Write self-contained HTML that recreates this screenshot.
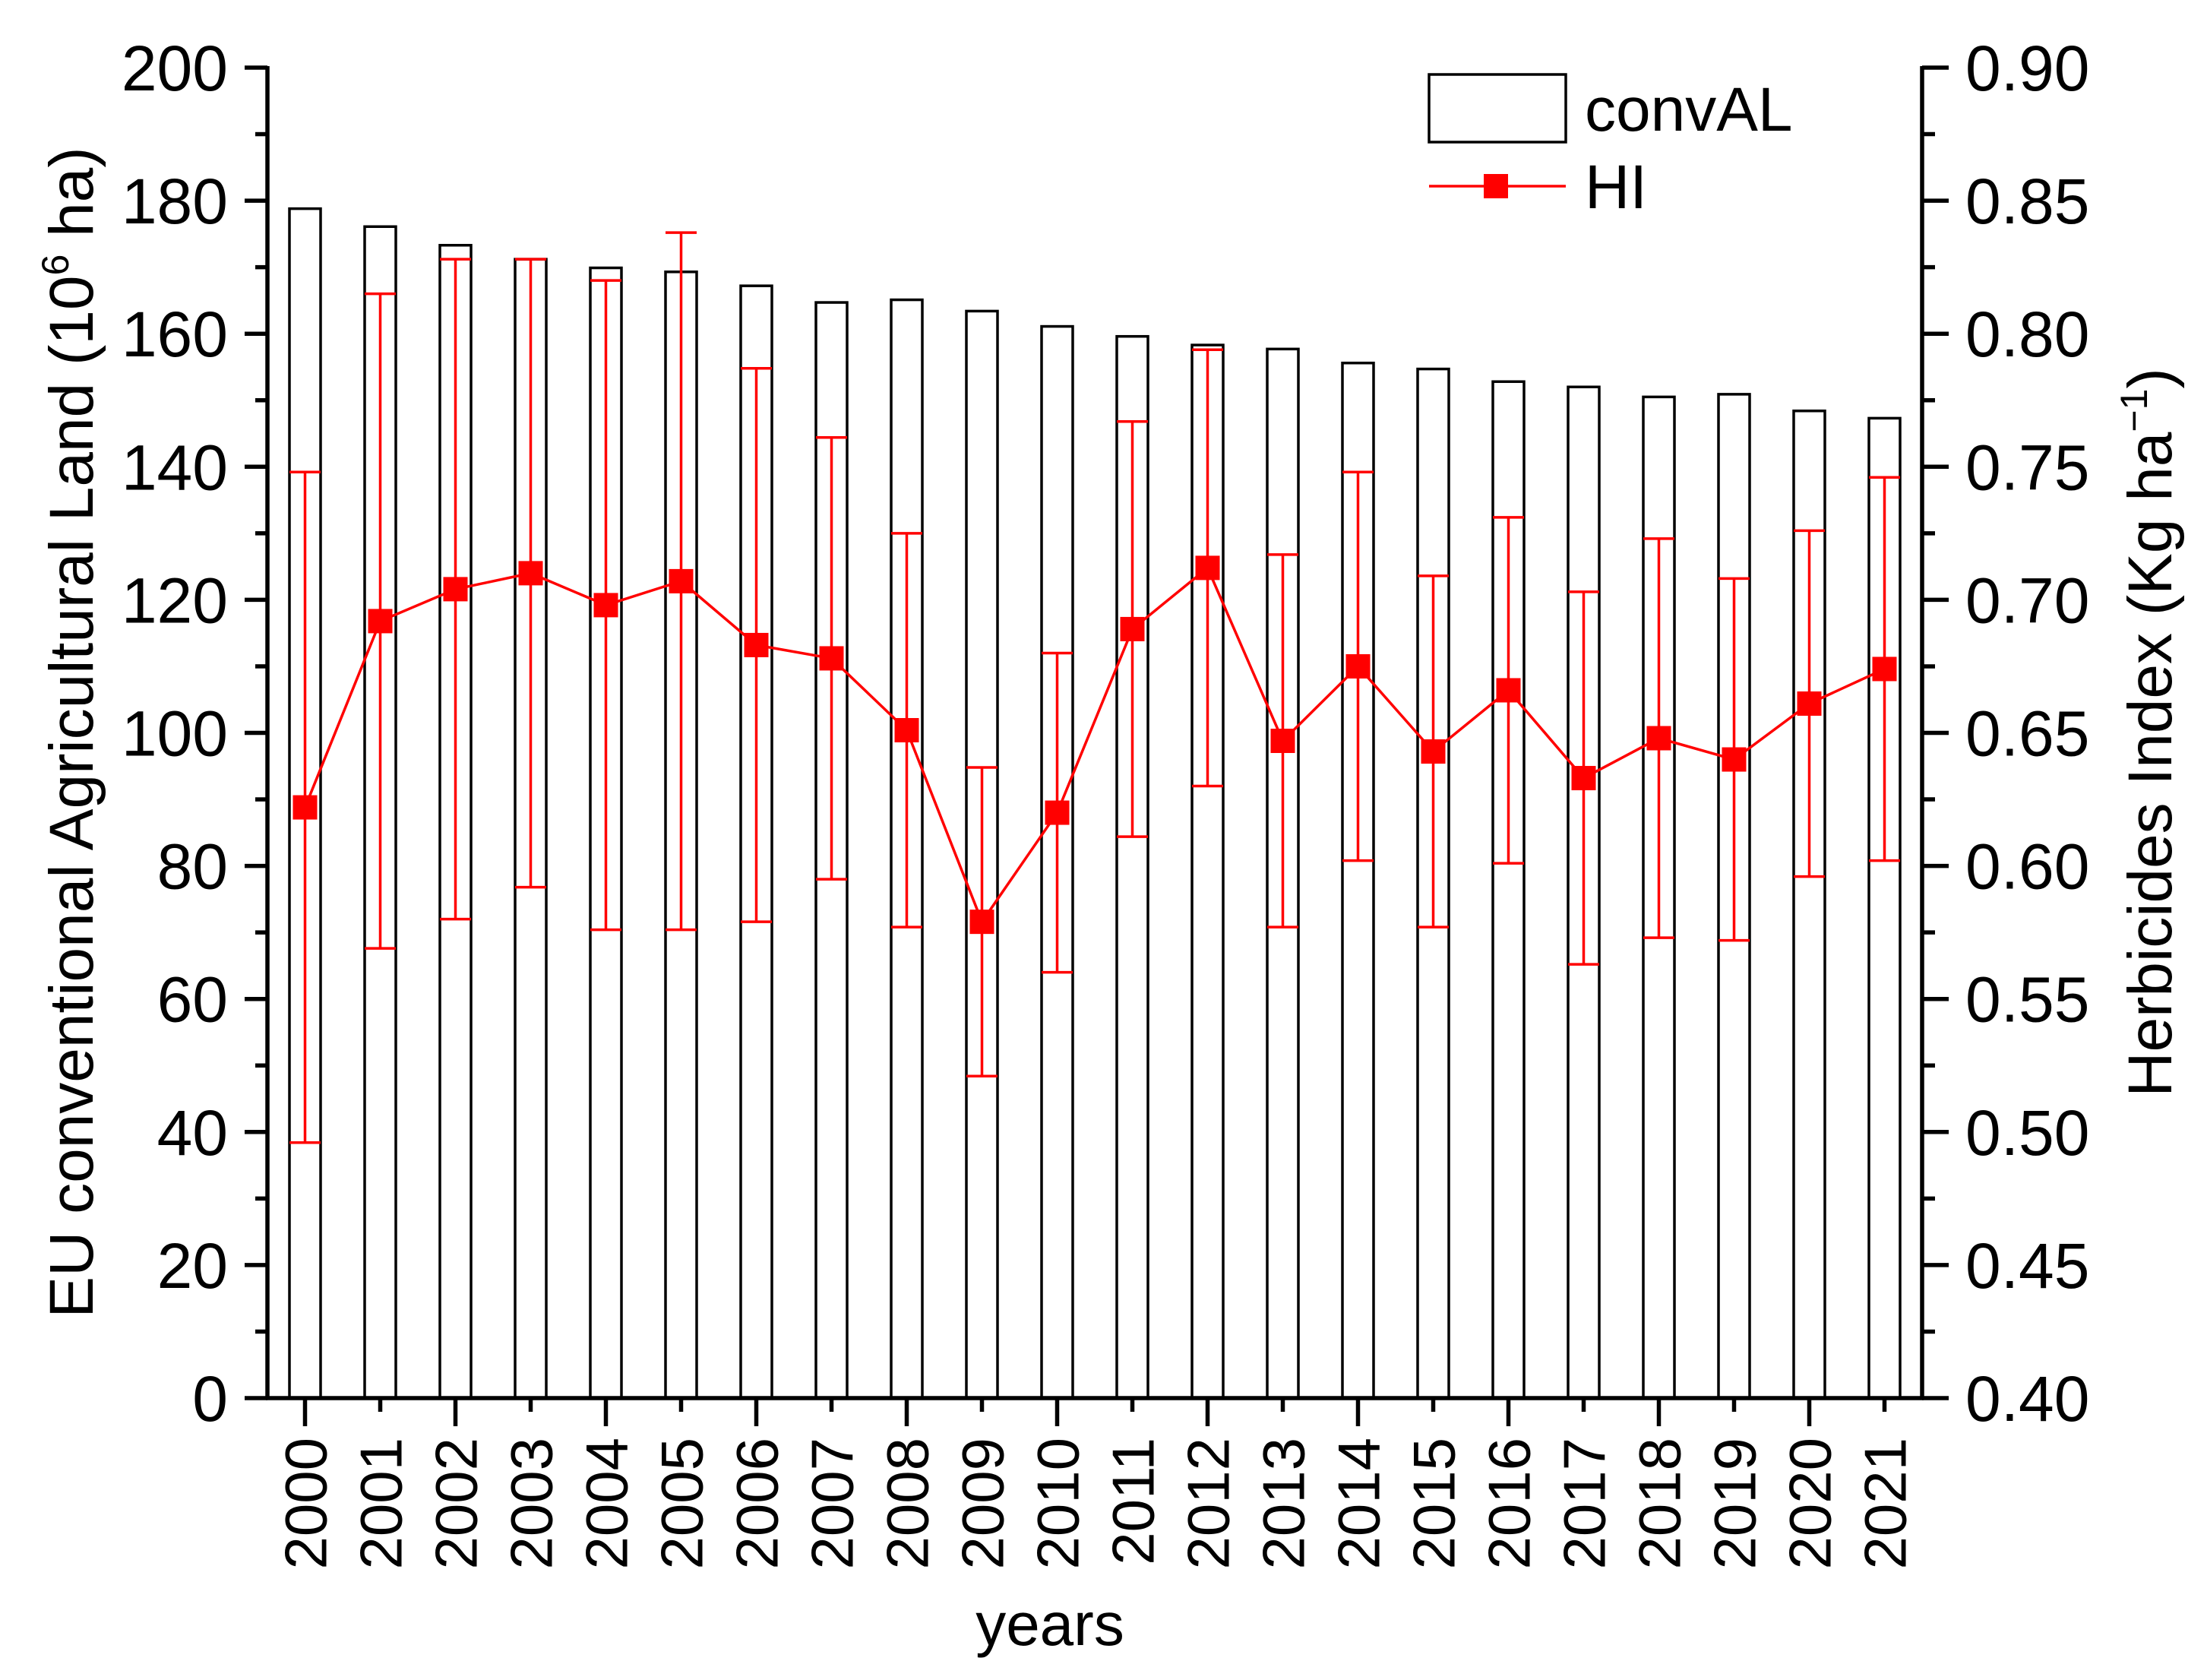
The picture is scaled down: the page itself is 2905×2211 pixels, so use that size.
<!DOCTYPE html>
<html><head><meta charset="utf-8"><style>
html,body{margin:0;padding:0;background:#fff}
svg{display:block;font-family:"Liberation Sans",Arial,sans-serif}
</style></head><body>
<svg id="chart" width="2905" height="2211" viewBox="0 0 2905 2211" xmlns="http://www.w3.org/2000/svg">
<g id="bars"></g>
<g id="errs"></g>
<g id="hiline"></g>
<g id="axes"></g>
<text transform="translate(122,964) rotate(-90)" text-anchor="middle" font-size="82">EU conventional Agricultural Land (10<tspan dy="-32" font-size="50">6</tspan><tspan dy="32"> ha)</tspan></text>
<text transform="translate(2858,964) rotate(-90)" text-anchor="middle" font-size="82">Herbicides Index (Kg ha<tspan dy="-32" font-size="50">−1</tspan><tspan dy="32">)</tspan></text>
<text x="1382" y="2165" text-anchor="middle" font-size="80">years</text>
<g>
<rect x="1881" y="98" width="180" height="89" fill="#fff" stroke="#000" stroke-width="3.5"/>
<text x="2086" y="172" font-size="82">convAL</text>
<line x1="1881" y1="245" x2="2061" y2="245" stroke="#f00" stroke-width="3.5"/>
<rect x="1953" y="229" width="32" height="32" fill="#f00"/>
<text x="2086" y="274" font-size="82">HI</text>
</g>
</svg>
<script>
const years = ["2000","2001","2002","2003","2004","2005","2006","2007","2008","2009","2010","2011","2012","2013","2014","2015","2016","2017","2018","2019","2020","2021"];
const convAL = [178.8,176.1,173.3,171.2,169.9,169.3,167.2,164.7,165.1,163.4,161.1,159.6,158.3,157.7,155.6,154.7,152.8,152.0,150.5,150.9,148.4,147.3];
const hiValues = [0.622,0.692,0.704,0.710,0.698,0.707,0.683,0.678,0.651,0.579,0.620,0.689,0.712,0.647,0.675,0.643,0.666,0.633,0.648,0.640,0.661,0.674];
const hiErrors = [0.126,0.123,0.124,0.118,0.122,0.131,0.104,0.083,0.074,0.058,0.060,0.078,0.082,0.070,0.073,0.066,0.065,0.070,0.075,0.068,0.065,0.072];
const leftTicks = [0,20,40,60,80,100,120,140,160,180,200];
const rightTicks = ["0.40","0.45","0.50","0.55","0.60","0.65","0.70","0.75","0.80","0.85","0.90"];

const NS="http://www.w3.org/2000/svg";
const L=352,R=2530,T=89,B=1840;
const x=i=>L+(i+0.5)*(R-L)/years.length;
const yL=v=>B-(v/200)*(B-T);
const yR=v=>B-((v-0.4)/0.5)*(B-T);
function mk(tag,attrs,parent){const e=document.createElementNS(NS,tag);for(const k in attrs)e.setAttribute(k,attrs[k]);parent.appendChild(e);return e;}
const bars=document.getElementById('bars'),errs=document.getElementById('errs'),hl=document.getElementById('hiline'),ax=document.getElementById('axes');
const bw=41;
years.forEach((yr,i)=>{
  const r=mk('rect',{x:x(i)-bw/2,y:yL(convAL[i]),width:bw,height:B-yL(convAL[i]),fill:'#fff',stroke:'#000','stroke-width':3.5},bars);
  
  
  const hi=yR(hiValues[i]+hiErrors[i]),lo=yR(hiValues[i]-hiErrors[i]);
  const g=mk('g',{stroke:'#f00','stroke-width':3.5},errs);
  
  
  mk('line',{x1:x(i),x2:x(i),y1:hi,y2:lo},g);
  mk('line',{x1:x(i)-bw/2,x2:x(i)+bw/2,y1:hi,y2:hi},g);
  mk('line',{x1:x(i)-bw/2,x2:x(i)+bw/2,y1:lo,y2:lo},g);
});
const pl=mk('polyline',{points:hiValues.map((v,i)=>x(i)+','+yR(v)).join(' '),fill:'none',stroke:'#f00','stroke-width':3.5},hl);


hiValues.forEach((v,i)=>{
  const m=mk('rect',{x:x(i)-16,y:yR(v)-16,width:32,height:32,fill:'#f00'},hl);
  
  
});
const aw=5.5;
mk('line',{x1:L,x2:L,y1:T-2,y2:B+2,stroke:'#000','stroke-width':aw},ax);
mk('line',{x1:R,x2:R,y1:T-2,y2:B+2,stroke:'#000','stroke-width':aw},ax);
mk('line',{x1:L-2,x2:R+2,y1:B,y2:B,stroke:'#000','stroke-width':aw},ax);
leftTicks.forEach((v,i)=>{
  const y=yL(v);
  mk('line',{x1:L-30,x2:L,y1:y,y2:y,stroke:'#000','stroke-width':aw},ax);
  if(i<leftTicks.length-1){const ym=yL(v+10);mk('line',{x1:L-16,x2:L,y1:ym,y2:ym,stroke:'#000','stroke-width':aw},ax);}
  const t=mk('text',{x:L-52,y:y+30,'text-anchor':'end','font-size':84},ax);
  t.textContent=v;
  
  
});
rightTicks.forEach((s,i)=>{
  const v=parseFloat(s),y=yR(v);
  mk('line',{x1:R,x2:R+35,y1:y,y2:y,stroke:'#000','stroke-width':aw},ax);
  if(i<rightTicks.length-1){const ym=yR(v+0.025);mk('line',{x1:R,x2:R+17,y1:ym,y2:ym,stroke:'#000','stroke-width':aw},ax);}
  const t=mk('text',{x:R+57,y:y+30,'font-size':84},ax);
  t.textContent=s;
  
  
});
years.forEach((yr,i)=>{
  const len=i%2===0?37:18;
  mk('line',{x1:x(i),x2:x(i),y1:B,y2:B+len,stroke:'#000','stroke-width':aw},ax);
  const t=mk('text',{transform:'translate('+(x(i)+28)+',1892) rotate(-90)','text-anchor':'end','font-size':78},ax);
  t.textContent=yr;
  
  
});
</script>
</body></html>
